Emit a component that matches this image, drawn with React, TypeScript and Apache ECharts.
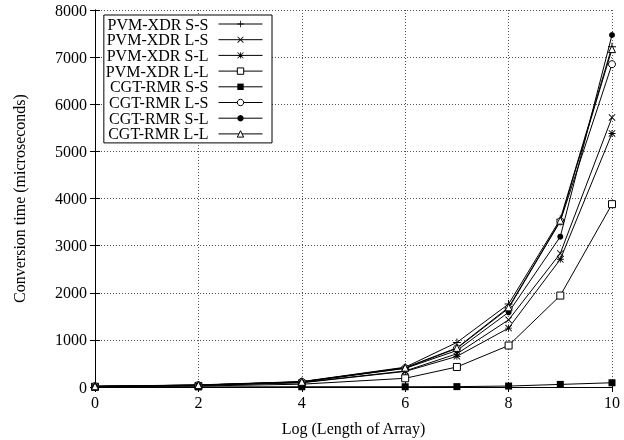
import React, { useEffect, useRef } from 'react';
import * as echarts from 'echarts';

const xValues = [0, 2, 4, 6, 7, 8, 9, 10];
const xTicks = [0, 2, 4, 6, 8, 10];
const yTicks = [0, 1000, 2000, 3000, 4000, 5000, 6000, 7000, 8000];

const seriesNames = [
  'PVM-XDR S-S',
  'PVM-XDR L-S',
  'PVM-XDR S-L',
  'PVM-XDR L-L',
  'CGT-RMR S-S',
  'CGT-RMR L-S',
  'CGT-RMR S-L',
  'CGT-RMR L-L',
];

const pvmSS = [15, 45, 115, 420, 945, 1760, 3560, 7220];
const pvmLS = [10, 35, 95, 340, 705, 1425, 2835, 5720];
const pvmSL = [10, 30, 90, 330, 650, 1250, 2710, 5380];
const pvmLL = [5, 20, 60, 185, 425, 880, 1940, 3880];
const cgtSS = [0, 2, 5, 5, 8, 20, 55, 90];
const cgtLS = [15, 40, 110, 400, 820, 1670, 3515, 6850];
const cgtSL = [15, 40, 105, 395, 775, 1585, 3190, 7470];
const cgtLL = [15, 40, 110, 410, 830, 1690, 3530, 7170];

const seriesValues = [pvmSS, pvmLS, pvmSL, pvmLL, cgtSS, cgtLS, cgtSL, cgtLL];

const PLUS = 'path://M0,4.4H10V5.6H0Z M4.4,0H5.6V10H4.4Z';
const CROSS = 'path://M0.9,0L10,9.1L9.1,10L0,0.9Z M9.1,0L10,0.9L0.9,10L0,9.1Z';
const STAR =
  'path://M0,4.4H10V5.6H0Z M4.4,0H5.6V10H4.4Z M0.9,0L10,9.1L9.1,10L0,0.9Z M9.1,0L10,0.9L0.9,10L0,9.1Z';

const FONT = '"Liberation Serif", "DejaVu Serif", serif';

type MarkerDef = { symbol: string; size: number; open: boolean };
const markers: MarkerDef[] = [
  { symbol: PLUS, size: 8, open: false },
  { symbol: CROSS, size: 7, open: false },
  { symbol: STAR, size: 7, open: false },
  { symbol: 'rect', size: 7, open: true },
  { symbol: 'rect', size: 7, open: false },
  { symbol: 'circle', size: 7, open: true },
  { symbol: 'circle', size: 6, open: false },
  { symbol: 'triangle', size: 7, open: true },
];

function itemStyleFor(m: MarkerDef) {
  return m.open
    ? { color: '#fff', borderColor: '#000', borderWidth: 1 }
    : { color: '#000', borderColor: '#000', borderWidth: 0 };
}

export default function App() {
  const ref = useRef<HTMLDivElement>(null);

  useEffect(() => {
    if (!ref.current) return;
    const chart = echarts.init(ref.current, null, { renderer: 'svg' });

    const axisCommon = {
      axisLine: { show: true, lineStyle: { color: '#000', width: 1 } },
      axisTick: { show: true, inside: true, length: 5, lineStyle: { color: '#000', width: 1 } },
    };
    const plainLabel = (v: number) => String(v);

    const option: any = {
      animation: false,
      textStyle: { fontFamily: FONT, color: '#000' },
      grid: { left: 95, right: 12, top: 10, bottom: 53, outerBoundsMode: 'none' },
      xAxis: [
        {
          type: 'value',
          min: xTicks[0],
          max: xTicks[xTicks.length - 1],
          interval: 2,
          position: 'bottom',
          ...axisCommon,
          axisLabel: { fontSize: 16, color: '#000', margin: 7, fontFamily: FONT, formatter: plainLabel },
          splitLine: { show: true, lineStyle: { color: '#555', type: [1, 2], width: 1 } },
          name: 'Log (Length of Array)',
          nameLocation: 'middle',
          nameGap: 33,
          nameTextStyle: { fontSize: 16, color: '#000', fontFamily: FONT },
        },
        {
          type: 'value',
          min: xTicks[0],
          max: xTicks[xTicks.length - 1],
          interval: 2,
          position: 'top',
          ...axisCommon,
          axisLabel: { show: false },
          splitLine: { show: false },
        },
      ],
      yAxis: [
        {
          type: 'value',
          min: yTicks[0],
          max: yTicks[yTicks.length - 1],
          interval: 1000,
          position: 'left',
          ...axisCommon,
          axisLabel: { fontSize: 16, color: '#000', margin: 8, fontFamily: FONT, formatter: plainLabel },
          splitLine: { show: true, lineStyle: { color: '#555', type: [1, 2], width: 1 } },
          name: 'Conversion time (microseconds)',
          nameLocation: 'middle',
          nameGap: 68,
          nameTextStyle: { fontSize: 16, color: '#000', fontFamily: FONT },
        },
        {
          type: 'value',
          min: yTicks[0],
          max: yTicks[yTicks.length - 1],
          interval: 1000,
          position: 'right',
          ...axisCommon,
          axisLabel: { show: false },
          splitLine: { show: false },
        },
      ],
      legend: {
        orient: 'vertical',
        align: 'right',
        right: 352,
        top: 15,
        itemWidth: 44,
        itemHeight: 8,
        itemGap: -0.3,
        padding: [1, 9, 1, 2],
        borderColor: '#000',
        borderWidth: 1,
        backgroundColor: '#fff',
        selectedMode: false,
        textStyle: { fontSize: 16, lineHeight: 15, color: '#000', fontFamily: FONT, padding: [0, 5, 0, 0] },
        lineStyle: { color: '#000', width: 1 },
        data: seriesNames.map((name, i) => ({
          name,
          itemStyle: itemStyleFor(markers[i]),
          lineStyle: { color: '#000', width: 1 },
        })),
      },
      series: seriesNames.map((name, i) => ({
        type: 'line',
        name,
        xAxisIndex: 0,
        yAxisIndex: 0,
        data: xValues.map((x, j) => [x, seriesValues[i][j]]),
        symbol: markers[i].symbol,
        symbolSize: markers[i].size,
        showSymbol: true,
        showAllSymbol: true,
        lineStyle: { color: '#000', width: 1 },
        itemStyle: itemStyleFor(markers[i]),
        emphasis: { disabled: true },
        z: 3,
      })),
    };

    chart.setOption(option);
    return () => chart.dispose();
  }, []);

  return (
    <div
      ref={ref}
      style={{ position: 'fixed', left: 0, top: 0, width: 624, height: 440 }}
    />
  );
}
